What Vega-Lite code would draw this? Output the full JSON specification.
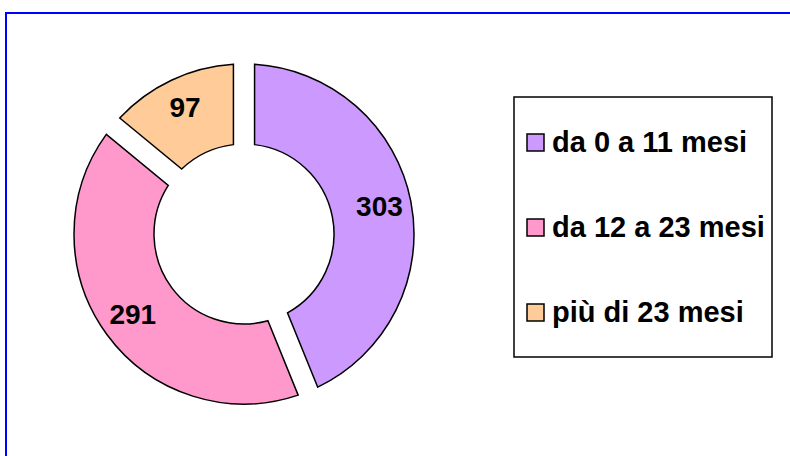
{
  "$schema": "https://vega.github.io/schema/vega-lite/v6.json",
  "width": 800,
  "height": 460,
  "autosize": {"type": "none"},
  "padding": {"left": 6, "top": 13, "right": 0, "bottom": 0},
  "background": "white",
  "config": {
    "view": {"stroke": null},
    "font": "Liberation Sans",
    "legend": {"strokeWidth": 1.5, "symbolStrokeWidth": 1.5}
  },
  "data": {
    "values": [
      {"category": "da 0 a 11 mesi", "value": 303, "ord": 1},
      {"category": "da 12 a 23 mesi", "value": 291, "ord": 2},
      {"category": "più di 23 mesi", "value": 97, "ord": 3}
    ]
  },
  "encoding": {
    "theta": {"field": "value", "type": "quantitative", "stack": true},
    "order": {"field": "ord", "type": "quantitative"}
  },
  "layer": [
    {
      "data": {"values": [{}]},
      "mark": {"type": "rect", "fill": null, "stroke": "#0000FF", "strokeWidth": 2},
      "encoding": {"theta": null, "order": null}
    },
    {
      "mark": {
        "type": "arc",
        "x": 238,
        "y": 221,
        "innerRadius": 90,
        "outerRadius": 170,
        "padAngle": 0.11,
        "stroke": "black",
        "strokeWidth": 1.5
      },
      "encoding": {
        "color": {
          "field": "category",
          "type": "nominal",
          "scale": {
            "domain": ["da 0 a 11 mesi", "da 12 a 23 mesi", "più di 23 mesi"],
            "range": ["#CC99FF", "#FF99CC", "#FFCC99"]
          },
          "legend": {
            "orient": "none",
            "legendX": 508,
            "legendY": 84,
            "title": " ",
            "titleFontSize": 17,
            "titlePadding": 7,
            "strokeColor": "black",
            "fillColor": "white",
            "padding": 7,
            "symbolType": "square",
            "symbolSize": 289,
            "symbolStrokeColor": "black",
            "symbolOpacity": 1,
            "labelFontSize": 29,
            "labelFont": "Liberation Sans",
            "labelFontWeight": "bold",
            "labelColor": "black",
            "labelOffset": 2,
            "labelExpr": "[datum.label, '']",
            "rowPadding": 33,
            "labelLimit": 400,
            "encode": {"labels": {"update": {"lineHeight": {"value": 22}}}}
          }
        }
      }
    },
    {
      "mark": {
        "type": "text",
        "x": 238,
        "y": 221,
        "radius": 138,
        "fontSize": 28,
        "fontWeight": "bold",
        "font": "Liberation Sans",
        "fill": "black"
      },
      "encoding": {
        "detail": {"field": "category", "type": "nominal"},
        "text": {"field": "value", "type": "quantitative"}
      }
    }
  ]
}
